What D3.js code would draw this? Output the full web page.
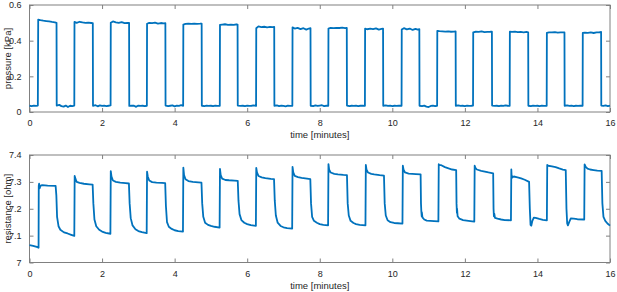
<!DOCTYPE html>
<html><head><meta charset="utf-8">
<script src="https://cdn.jsdelivr.net/npm/d3@7"></script>
<style>
html,body{margin:0;padding:0;background:#fff;}
svg{display:block;}
.tk text{font-family:"Liberation Sans",Arial,sans-serif;font-size:9px;fill:#262626;}
.lbl{font-family:"Liberation Sans",Arial,sans-serif;font-size:9.5px;fill:#262626;}
</style>
</head><body>
<svg id="c" width="617" height="292"></svg>
<script>
// ---- data ----
const timeTicks = [0,2,4,6,8,10,12,14,16];
const pressureTicks = [0,0.2,0.4,0.6];
const resistanceTicks = [7,7.1,7.2,7.3,7.4];
const xLabel = "time [minutes]";
const pressureLabel = "pressure [kPa]";
const resistanceLabel = "resistance [ohm]";

// pressure [minutes, kPa]
const pressure = [
[0,0.035],[0.06,0.033],[0.12,0.036],[0.18,0.034],[0.23,0.036],
[0.24,0.518],[0.30,0.515],[0.38,0.512],[0.46,0.510],[0.54,0.508],[0.62,0.505],[0.70,0.503],[0.745,0.500],
[0.75,0.036],[0.82,0.040],[0.88,0.033],[0.94,0.030],[1.00,0.036],[1.06,0.028],[1.12,0.035],[1.18,0.033],[1.235,0.036],
[1.24,0.505],[1.30,0.500],[1.38,0.506],[1.46,0.502],[1.54,0.500],[1.62,0.501],[1.70,0.499],[1.745,0.498],
[1.75,0.035],[1.82,0.038],[1.88,0.032],[1.94,0.037],[2.00,0.034],[2.06,0.036],[2.12,0.033],[2.18,0.035],[2.235,0.037],
[2.24,0.500],[2.30,0.508],[2.38,0.503],[2.46,0.500],[2.54,0.504],[2.62,0.498],[2.70,0.500],[2.745,0.499],
[2.75,0.034],[2.82,0.036],[2.88,0.035],[2.94,0.029],[3.00,0.036],[3.06,0.034],[3.12,0.035],[3.18,0.033],[3.235,0.035],
[3.24,0.495],[3.30,0.500],[3.38,0.498],[3.46,0.501],[3.54,0.496],[3.62,0.499],[3.70,0.497],[3.745,0.498],
[3.75,0.036],[3.82,0.033],[3.88,0.035],[3.94,0.037],[4.00,0.032],[4.06,0.036],[4.12,0.034],[4.18,0.038],[4.235,0.035],
[4.24,0.490],[4.30,0.494],[4.38,0.495],[4.46,0.494],[4.54,0.495],[4.62,0.494],[4.70,0.495],[4.745,0.496],
[4.75,0.035],[4.82,0.033],[4.88,0.036],[4.94,0.034],[5.00,0.035],[5.06,0.033],[5.12,0.036],[5.18,0.034],[5.245,0.035],
[5.25,0.488],[5.31,0.490],[5.39,0.492],[5.47,0.489],[5.55,0.490],[5.63,0.488],[5.70,0.492],[5.735,0.490],
[5.74,0.036],[5.82,0.034],[5.88,0.035],[5.94,0.033],[6.00,0.036],[6.06,0.034],[6.12,0.035],[6.18,0.037],[6.245,0.034],
[6.25,0.470],[6.31,0.480],[6.39,0.476],[6.47,0.478],[6.55,0.475],[6.63,0.477],[6.70,0.476],[6.745,0.477],
[6.75,0.035],[6.82,0.037],[6.88,0.033],[6.94,0.036],[7.00,0.034],[7.06,0.032],[7.12,0.036],[7.18,0.034],[7.245,0.035],
[7.25,0.475],[7.31,0.468],[7.39,0.472],[7.47,0.465],[7.55,0.470],[7.63,0.462],[7.70,0.468],[7.745,0.470],
[7.75,0.035],[7.82,0.033],[7.88,0.037],[7.94,0.034],[8.00,0.036],[8.06,0.038],[8.12,0.033],[8.18,0.035],[8.235,0.034],
[8.24,0.468],[8.30,0.472],[8.38,0.470],[8.46,0.472],[8.54,0.471],[8.62,0.473],[8.70,0.470],[8.745,0.472],
[8.75,0.036],[8.82,0.033],[8.88,0.035],[8.94,0.034],[9.00,0.036],[9.06,0.033],[9.12,0.035],[9.18,0.036],[9.245,0.034],
[9.25,0.468],[9.31,0.464],[9.39,0.467],[9.47,0.465],[9.55,0.469],[9.63,0.462],[9.70,0.466],[9.745,0.468],
[9.75,0.035],[9.82,0.037],[9.88,0.034],[9.94,0.036],[10.00,0.033],[10.06,0.035],[10.12,0.034],[10.18,0.036],[10.255,0.035],
[10.26,0.462],[10.32,0.470],[10.40,0.463],[10.48,0.468],[10.56,0.460],[10.64,0.466],[10.70,0.462],[10.745,0.465],
[10.75,0.035],[10.82,0.033],[10.88,0.036],[10.94,0.030],[11.00,0.028],[11.06,0.034],[11.12,0.036],[11.18,0.033],[11.235,0.035],
[11.24,0.455],[11.30,0.453],[11.38,0.452],[11.46,0.451],[11.54,0.452],[11.62,0.450],[11.70,0.451],[11.745,0.452],
[11.75,0.035],[11.82,0.037],[11.88,0.034],[11.94,0.035],[12.00,0.033],[12.06,0.036],[12.12,0.034],[12.18,0.035],[12.225,0.036],
[12.23,0.447],[12.30,0.450],[12.38,0.449],[12.46,0.452],[12.54,0.448],[12.62,0.449],[12.70,0.450],[12.745,0.451],
[12.75,0.036],[12.82,0.034],[12.88,0.035],[12.94,0.033],[13.00,0.036],[13.06,0.034],[13.12,0.037],[13.18,0.035],[13.235,0.034],
[13.24,0.450],[13.30,0.449],[13.38,0.451],[13.46,0.448],[13.54,0.449],[13.62,0.447],[13.70,0.449],[13.745,0.447],
[13.75,0.035],[13.82,0.033],[13.88,0.036],[13.94,0.034],[14.00,0.035],[14.06,0.033],[14.12,0.036],[14.18,0.034],[14.255,0.035],
[14.26,0.444],[14.32,0.447],[14.40,0.446],[14.48,0.448],[14.56,0.445],[14.64,0.446],[14.70,0.447],[14.745,0.446],
[14.75,0.035],[14.82,0.037],[14.88,0.034],[14.94,0.036],[15.00,0.033],[15.06,0.035],[15.12,0.034],[15.18,0.036],[15.245,0.035],
[15.25,0.443],[15.31,0.445],[15.39,0.444],[15.47,0.446],[15.55,0.443],[15.63,0.446],[15.70,0.447],[15.755,0.449],
[15.76,0.036],[15.82,0.034],[15.88,0.037],[15.94,0.033],[16.00,0.036]
];

// resistance [minutes, ohm]
const resistance = [
[0,7.065],[0.1,7.062],[0.2,7.058],[0.25,7.055],
[0.255,7.285],[0.265,7.293],[0.28,7.276],[0.30,7.285],[0.35,7.288],[0.5,7.286],[0.72,7.285],
[0.74,7.25],[0.76,7.17],[0.80,7.135],[0.85,7.122],[0.95,7.112],[1.05,7.108],[1.15,7.103],[1.235,7.099],
[1.245,7.322],[1.27,7.31],[1.30,7.30],[1.38,7.296],[1.5,7.293],[1.65,7.291],[1.74,7.290],
[1.76,7.22],[1.79,7.16],[1.84,7.135],[1.92,7.122],[2.0,7.115],[2.1,7.110],[2.23,7.107],
[2.24,7.340],[2.26,7.32],[2.30,7.305],[2.38,7.300],[2.5,7.297],[2.65,7.295],[2.74,7.294],
[2.76,7.22],[2.79,7.165],[2.84,7.138],[2.92,7.124],[3.0,7.117],[3.1,7.113],[3.23,7.109],
[3.24,7.338],[3.26,7.32],[3.30,7.305],[3.38,7.299],[3.5,7.297],[3.65,7.296],[3.74,7.295],
[3.76,7.21],[3.79,7.15],[3.84,7.133],[3.92,7.125],[4.0,7.12],[4.1,7.117],[4.23,7.115],
[4.24,7.353],[4.26,7.325],[4.30,7.31],[4.38,7.303],[4.5,7.300],[4.65,7.298],[4.74,7.297],
[4.76,7.22],[4.79,7.17],[4.84,7.148],[4.92,7.14],[5.0,7.136],[5.1,7.133],[5.24,7.13],
[5.25,7.348],[5.27,7.325],[5.31,7.312],[5.4,7.307],[5.5,7.306],[5.65,7.305],[5.74,7.304],
[5.76,7.23],[5.79,7.18],[5.84,7.158],[5.92,7.148],[6.0,7.143],[6.1,7.139],[6.24,7.136],
[6.25,7.352],[6.27,7.335],[6.31,7.322],[6.4,7.317],[6.5,7.314],[6.65,7.311],[6.74,7.310],
[6.76,7.23],[6.79,7.175],[6.84,7.148],[6.92,7.136],[7.0,7.131],[7.1,7.128],[7.24,7.126],
[7.25,7.356],[7.27,7.335],[7.31,7.322],[7.4,7.318],[7.5,7.315],[7.65,7.312],[7.74,7.31],
[7.76,7.22],[7.79,7.17],[7.84,7.155],[7.92,7.148],[8.0,7.143],[8.1,7.14],[8.23,7.138],
[8.24,7.366],[8.26,7.345],[8.30,7.335],[8.4,7.330],[8.5,7.328],[8.65,7.326],[8.75,7.325],
[8.77,7.22],[8.80,7.175],[8.85,7.155],[8.93,7.147],[9.0,7.143],[9.1,7.14],[9.26,7.138],
[9.27,7.363],[9.29,7.345],[9.33,7.335],[9.42,7.330],[9.5,7.328],[9.65,7.325],[9.77,7.323],
[9.79,7.22],[9.82,7.175],[9.87,7.157],[9.95,7.15],[10.05,7.147],[10.15,7.146],[10.28,7.145],
[10.29,7.360],[10.31,7.345],[10.35,7.335],[10.45,7.331],[10.55,7.33],[10.65,7.329],[10.78,7.328],
[10.79,7.22],[10.80,7.19],[10.81,7.172],[10.815,7.186],[10.83,7.168],[10.88,7.16],[10.95,7.156],[11.05,7.155],[11.15,7.154],[11.27,7.153],
[11.28,7.366],[11.3,7.362],[11.35,7.362],[11.45,7.355],[11.55,7.35],[11.65,7.346],[11.76,7.344],
[11.77,7.22],[11.78,7.185],[11.785,7.20],[11.80,7.172],[11.85,7.163],[11.95,7.158],[12.05,7.156],[12.15,7.154],[12.26,7.152],
[12.27,7.360],[12.29,7.352],[12.33,7.346],[12.45,7.341],[12.55,7.338],[12.65,7.335],[12.78,7.332],
[12.79,7.2],[12.80,7.172],[12.81,7.182],[12.83,7.166],[12.9,7.163],[13.0,7.16],[13.1,7.158],[13.27,7.157],
[13.28,7.346],[13.29,7.313],[13.30,7.322],[13.31,7.318],[13.35,7.32],[13.45,7.317],[13.55,7.313],[13.65,7.308],[13.77,7.300],
[13.79,7.2],[13.81,7.14],[13.83,7.137],[13.86,7.155],[13.9,7.167],[13.95,7.166],[14.05,7.162],[14.15,7.159],[14.26,7.157],
[14.27,7.363],[14.3,7.36],[14.4,7.358],[14.5,7.355],[14.6,7.35],[14.7,7.346],[14.78,7.344],
[14.80,7.2],[14.82,7.145],[14.84,7.138],[14.88,7.152],[14.92,7.164],[15.0,7.163],[15.1,7.161],[15.29,7.16],
[15.30,7.365],[15.33,7.356],[15.38,7.349],[15.45,7.346],[15.55,7.344],[15.65,7.342],[15.77,7.341],
[15.79,7.22],[15.82,7.17],[15.87,7.155],[15.93,7.145],[16.0,7.137]
];

// ---- drawing ----
const svg = d3.select("#c");
const lineColor = "#0072BD";
const axisColor = "#808080";
const L = 29.5, R = 610;

function panel(top, bottom, yDomain, yTicks, fmt, data, yLab, xLabBase){
  const x = d3.scaleLinear().domain([0,16]).range([L,R]);
  const y = d3.scaleLinear().domain(yDomain).range([bottom,top]);
  const g = svg.append("g");
  // bottom axis
  const bx = g.append("g").attr("class","tk").attr("transform",`translate(0,${bottom})`)
    .call(d3.axisBottom(x).tickValues(timeTicks).tickFormat(d3.format("d")).tickSizeInner(-4).tickSizeOuter(0).tickPadding(8));
  const tx = g.append("g").attr("class","tk").attr("transform",`translate(0,${top})`)
    .call(d3.axisTop(x).tickValues(timeTicks).tickFormat("").tickSizeInner(-4).tickSizeOuter(0));
  const ly = g.append("g").attr("class","tk").attr("transform",`translate(${L},0)`)
    .call(d3.axisLeft(y).tickValues(yTicks).tickFormat(fmt).tickSizeInner(-4).tickSizeOuter(0).tickPadding(8));
  const ry = g.append("g").attr("class","tk").attr("transform",`translate(${R},0)`)
    .call(d3.axisRight(y).tickValues(yTicks).tickFormat("").tickSizeInner(-4).tickSizeOuter(0));
  g.selectAll(".tk .domain").remove();
  g.selectAll(".tk line").attr("stroke",axisColor).attr("stroke-width",1);
  g.append("rect").attr("x",L).attr("y",top).attr("width",R-L).attr("height",bottom-top)
    .attr("fill","none").attr("stroke",axisColor).attr("stroke-width",1);
  const line = d3.line().x(d=>x(d[0])).y(d=>y(d[1]));
  g.append("path").datum(data).attr("d",line).attr("fill","none")
    .attr("stroke",lineColor).attr("stroke-width",1.8).attr("stroke-linejoin","round");
  g.append("text").attr("class","lbl").attr("text-anchor","middle")
    .attr("x",(L+R)/2).attr("y",xLabBase).text(xLabel);
  g.append("text").attr("class","lbl").attr("text-anchor","middle")
    .attr("transform",`translate(10.5,${(top+bottom)/2}) rotate(-90)`).text(yLab);
}

panel(5, 112, [0,0.6], pressureTicks, d=>d===0?"0":d3.format(".1f")(d), pressure, pressureLabel, 137.5);
panel(155, 262.5, [7,7.4], resistanceTicks, d=>d===7?"7":d3.format(".1f")(d), resistance, resistanceLabel, 288.5);
</script>
</body></html>
